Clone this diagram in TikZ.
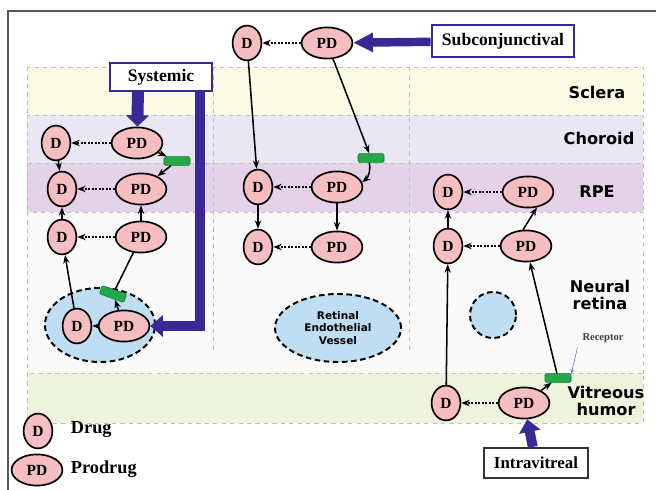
\documentclass[tikz,border=0pt]{standalone}
\usepackage{fontspec}
\setmainfont{Liberation Serif}
\setsansfont{DejaVu Sans}
\usetikzlibrary{arrows.meta,shapes.geometric}

\definecolor{pdpink}{RGB}{246,190,192}
\definecolor{routeblue}{RGB}{58,40,150}
\definecolor{recgreen}{RGB}{34,170,72}
\definecolor{vesselblue}{RGB}{192,222,243}
\definecolor{scleracol}{RGB}{251,250,228}
\definecolor{choroidcol}{RGB}{233,231,244}
\definecolor{rpecol}{RGB}{227,210,232}
\definecolor{retinacol}{RGB}{250,250,250}
\definecolor{vitreouscol}{RGB}{238,243,221}

\begin{document}
\begin{tikzpicture}[x=0.025cm,y=-0.025cm,
    drug/.style={ellipse,draw,very thick,fill=pdpink,inner sep=0pt,
        minimum width=0.72cm,minimum height=0.87cm,font=\bfseries\fontsize{11}{12}\selectfont},
    prodrug/.style={drug,minimum width=1.27cm,minimum height=0.78cm},
    receptor/.style={draw=recgreen!70!black,fill=recgreen,rounded corners=1pt,
        minimum width=0.65cm,minimum height=0.22cm,inner sep=0pt},
    vessel/.style={ellipse,draw,line width=1.4pt,dash pattern=on 4pt off 2.5pt,fill=vesselblue},
    route/.style={draw=routeblue,line width=1.5pt,fill=white,inner sep=0pt,
        font=\bfseries\fontsize{12.5}{14}\selectfont},
    bigarrow/.style={draw=routeblue,line width=6.5pt,
        -{Triangle[width=15pt,length=9pt]}}]
    \useasboundingbox (0,0) rectangle (656,490);
    \draw[gray!70!black,line width=1.2pt] (8,490) -- (8,11) -- (656,11);

    % layers of the eye
    \begin{scope}[every path/.style={draw=gray!50,dashed,thin}]
        \path[fill=scleracol] (27,67) rectangle (643,115);
        \path[fill=choroidcol] (27,115) rectangle (643,163);
        \path[fill=rpecol] (27,163) rectangle (643,212);
        \path[fill=retinacol] (27,212) rectangle (643,373);
        \path[fill=vitreouscol] (27,373) rectangle (643,423);
        \path (213,67) -- (213,350);
        \path (409,67) -- (409,350);
    \end{scope}

    \begin{scope}[every node/.style={font=\sffamily\bfseries\fontsize{11.5}{12.5}\selectfont,align=center}]
        \node (sclera) at (597,92) {Sclera};
        \node (choroid) at (599,138) {Choroid};
        \node (rpe) at (597,192) {RPE};
        \node (retina) at (600,295) {Neural\\retina};
        \node (vitreous) at (606,401) {Vitreous\\humor};
    \end{scope}

    % vessels
    \node (V1) [vessel,minimum width=2.75cm,minimum height=1.85cm] at (100,325) {};
    \node (V2) [vessel,minimum width=3.15cm,minimum height=1.7cm,align=center,
        font=\sffamily\bfseries\fontsize{7.5}{9}\selectfont] at (338,328) {Retinal\\Endothelial\\Vessel};
    \node (V3) [vessel,circle,minimum size=1.15cm] at (493,315) {};

    % routes of administration
    \node (sys) [route,minimum width=2.57cm,minimum height=0.7cm] at (161,77) {Systemic};
    \node (subc) [route,minimum width=3.57cm,minimum height=0.78cm] at (503,41) {Subconjunctival};
    \node (intra) [route,draw=black!80,minimum width=2.6cm,minimum height=0.75cm,
        font=\bfseries\fontsize{12}{14}\selectfont] at (536,463) {Intravitreal};

    % systemic column
    \node (D1) [drug] at (56,143) {D};
    \node (PD1) [prodrug] at (137,143) {PD};
    \node (D2) [drug] at (62,189) {D};
    \node (PD2) [prodrug] at (141,189) {PD};
    \node (D3) [drug] at (62,237) {D};
    \node (PD3) [prodrug] at (141,237) {PD};
    \node (D4) [drug] at (77,326) {D};
    \node (PD4) [prodrug] at (124,326) {PD};
    \node (R1) [receptor] at (177,161) {};
    \node (R2) [receptor,rotate=-20] at (113,294) {};

    % subconjunctival column
    \node (D5) [drug] at (247,43) {D};
    \node (PD5) [prodrug] at (327,43) {PD};
    \node (D6) [drug] at (258,187) {D};
    \node (PD6) [prodrug] at (337,187) {PD};
    \node (D7) [drug] at (258,247) {D};
    \node (PD7) [prodrug] at (337,247) {PD};
    \node (R3) [receptor] at (371,158) {};

    % intravitreal column
    \node (D8) [drug] at (448,192) {D};
    \node (PD8) [prodrug] at (528,192) {PD};
    \node (D9) [drug] at (448,246) {D};
    \node (PD9) [prodrug] at (526,246) {PD};
    \node (D10) [drug] at (446,403) {D};
    \node (PD10) [prodrug] at (524,403) {PD};
    \node (R4) [receptor] at (558,378) {};
    \node (reclabel) [font=\bfseries\fontsize{7.5}{9}\selectfont,text=gray!50!black] at (603,338) {Receptor};

    % legend
    \node (LD) [drug] at (38,431) {D};
    \node (LPD) [prodrug] at (37,470) {PD};
    \node (drugtxt) [anchor=west,font=\bfseries\fontsize{13}{15}\selectfont] at (66,430) {Drug};
    \node (prodrugtxt) [anchor=west,font=\bfseries\fontsize{13}{15}\selectfont] at (66,469) {Prodrug};

    % big arrows
    \coordinate (sysA) at (138,91);
    \coordinate (sysB) at (200,91);
    \draw[bigarrow,line width=8.5pt,-{Triangle[width=16pt,length=8pt]}] (sysA) -- (PD1);
    \draw[bigarrow,line width=7pt] (sysB) |- (PD4);
    \draw[bigarrow,line width=6pt,-{Triangle[width=13pt,length=14pt]}] (subc) -- (PD5);
    \draw[bigarrow,line width=7pt] (intra) -- (PD10);

    \draw[routeblue!70,thin,-{Stealth[length=3pt,width=2.5pt]}] (reclabel.south west) -- (R4.north east);

    \begin{scope}[>={Stealth[black,length=6pt,width=4.5pt]},
                  every edge/.style={draw=black,line width=1.1pt}]
        \path [->,dash pattern=on 1.5pt off 1pt] (PD1) edge (D1);
        \path [->] (PD1) edge (R1);
        \path [->] (R1) edge (PD2);
        \path [->] (D1) edge (D2);
        \path [->,dash pattern=on 1.5pt off 1pt] (PD2) edge (D2);
        \path [->] (D3) edge (D2);
        \path [->] (PD3) edge (PD2);
        \path [->,dash pattern=on 1.5pt off 1pt] (PD3) edge (D3);
        \path [->] (D4) edge (D3);
        \path (R2) edge (PD3);
        \path [->] (PD4) edge (R2);
        \path [->,dash pattern=on 1.5pt off 1pt] (PD4) edge (D4);

        \path [->,dash pattern=on 1.5pt off 1pt] (PD5) edge (D5);
        \path [->] (D5) edge (D6);
        \path [->] (PD5) edge (R3);
        \path [->,bend left=30] (R3) edge (PD6);
        \path [->,dash pattern=on 1.5pt off 1pt] (PD6) edge (D6);
        \path [->] (D6) edge (D7);
        \path [->] (PD6) edge (PD7);
        \path [->,dash pattern=on 1.5pt off 1pt] (PD7) edge (D7);

        \path [->,dash pattern=on 1.5pt off 1pt] (PD8) edge (D8);
        \path [->] (D9) edge (D8);
        \path [->] (PD9.100) edge (PD8.-60);
        \path [->,dash pattern=on 1.5pt off 1pt] (PD9) edge (D9);
        \path [->] (D10) edge (D9);
        \path [->] (R4) edge (PD9);
        \path [->] (PD10) edge (R4);
        \path [->,dash pattern=on 1.5pt off 1pt] (PD10) edge (D10);
    \end{scope}
\end{tikzpicture}
\end{document}
